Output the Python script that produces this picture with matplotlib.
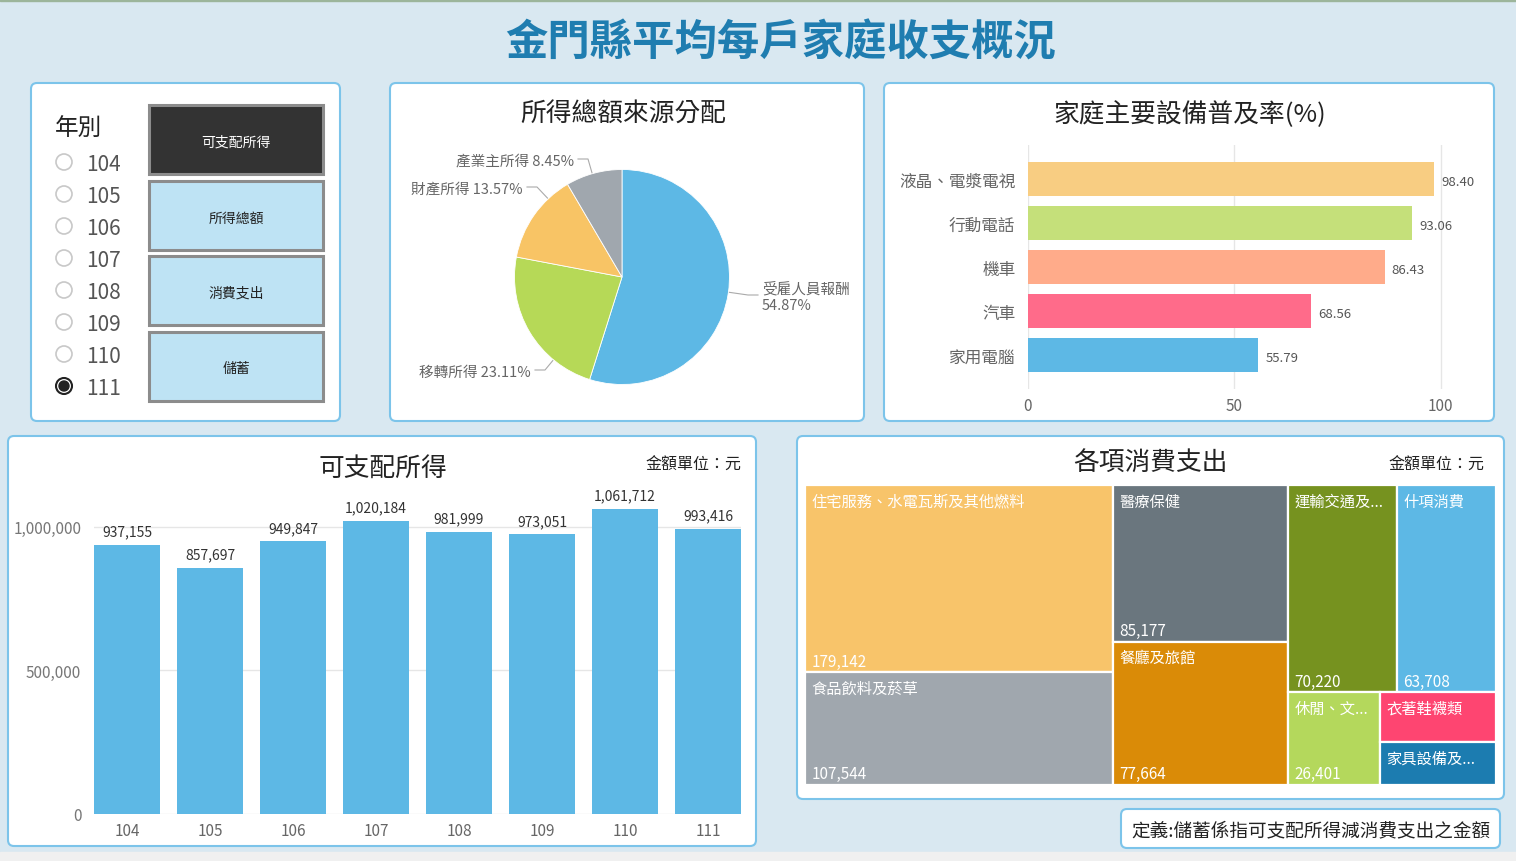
import matplotlib
matplotlib.use('Agg')
import matplotlib.pyplot as plt
from matplotlib.patches import FancyBboxPatch, Rectangle, Circle
import numpy as np

plt.rcParams['font.family'] = ['Noto Sans CJK TC', 'DejaVu Sans']

# ---- data ----
years = ['104', '105', '106', '107', '108', '109', '110', '111']
selected_year = '111'
disposable_income = [937155, 857697, 949847, 1020184, 981999, 973051, 1061712, 993416]

buttons = ['可支配所得', '所得總額', '消費支出', '儲蓄']

income_sources = ['受雇人員報酬', '移轉所得', '財產所得', '產業主所得']
income_shares = [54.87, 23.11, 13.57, 8.45]

equipment = ['液晶、電漿電視', '行動電話', '機車', '汽車', '家用電腦']
equipment_rates = [98.40, 93.06, 86.43, 68.56, 55.79]

spend_items = ['住宅服務、水電瓦斯及其他燃料', '食品飲料及菸草', '醫療保健', '餐廳及旅館',
               '運輸交通及...', '什項消費', '休閒、文...', '衣著鞋襪類', '家具設備及...']
spend_values = [179142, 107544, 85177, 77664, 70220, 63708, 26401, 17795, 15570]

# ---- colours ----
bg_color = '#D9E8F1'
border = '#7CC4EA'
blue = '#5DB8E5'
pie_colors = [blue, '#B6D957', '#F8C465', '#A0A7AE']
equip_colors = ['#F8CD82', '#C5E07A', '#FFAB8A', '#FF6B8A', blue]
spend_colors = ['#F8C46A', '#A0A7AE', '#6A767E', '#DA8B07', '#76921F',
                blue, '#B4D85C', '#FE4571', '#1C7CB0']

W, H = 1516, 862
fig = plt.figure(figsize=(W / 100, H / 100), dpi=100)
fig.patch.set_facecolor(bg_color)


def px_axes(x0, y0, x1, y1):
    # add an axes given its pixel box (top-left origin)
    ax = fig.add_axes([x0 / W, 1 - y1 / H, (x1 - x0) / W, (y1 - y0) / H])
    ax.set_facecolor('none')
    return ax


# background canvas in pixel units
bg = fig.add_axes([0, 0, 1, 1])
bg.set_xlim(0, W)
bg.set_ylim(H, 0)
bg.axis('off')
bg.add_patch(Rectangle((0, 0), W, 2, color='#9CB59B'))
bg.add_patch(Rectangle((0, 853), W, 9, color='#F0F0F0'))


def panel(x0, y0, x1, y1):
    bg.add_patch(FancyBboxPatch((x0, y0), x1 - x0, y1 - y0,
                                boxstyle='round,pad=0,rounding_size=6',
                                facecolor='white', edgecolor=border, linewidth=1.5))


panel(31, 84, 340, 422)
panel(390, 84, 864, 422)
panel(884, 84, 1494, 422)
panel(8, 437, 756, 847)
panel(797, 437, 1504, 800)
panel(1121, 810, 1500, 849)

bg.text(781, 44, '金門縣平均每戶家庭收支概況', ha='center', va='center',
        fontsize=30.5, fontweight='bold', color='#1F7DB0')

# ---- slicer panel ----
bg.text(55, 129, '年別', ha='left', va='center', fontsize=17, color='#222222')
for i, y in enumerate(years):
    yy = 163 + 32 * i
    if y == selected_year:
        bg.add_patch(Circle((64, yy), 8, facecolor='white', edgecolor='#222222', linewidth=1.5))
        bg.add_patch(Circle((64, yy), 5, color='#222222'))
    else:
        bg.add_patch(Circle((64, yy), 8, facecolor='white', edgecolor='#C8C8C8', linewidth=1.2))
    bg.text(86, yy + 2, y, ha='left', va='center', fontsize=15, color='#555555')

for i, b in enumerate(buttons):
    top = 106 + 75.5 * i
    active = i == 0
    bg.add_patch(Rectangle((149, top), 174, 69, facecolor='#333333' if active else '#BEE3F4',
                           edgecolor='#8C8C8C', linewidth=2.2))
    bg.text(236, top + 37, b, ha='center', va='center', fontsize=10,
            color='white' if active else '#222222')

# ---- pie: 所得總額來源分配 ----
bg.text(623, 115, '所得總額來源分配', ha='center', va='center', fontsize=18.5, color='#222222')
cx, cy, R = 622, 278, 107.5
ax_pie = px_axes(cx - R, cy - R, cx + R, cy + R)
ax_pie.pie(income_shares, colors=pie_colors, startangle=90, counterclock=False,
           wedgeprops=dict(edgecolor='white', linewidth=0.6))
ax_pie.set_xlim(-1, 1)
ax_pie.set_ylim(-1, 1)
ax_pie.axis('off')

# label positions (pixel layout) and which side the text sits on
label_pos = [(762, 296, 'left'), (531, 371, 'right'), (523, 188, 'right'), (574, 160, 'right')]
cum = np.concatenate([[0], np.cumsum(income_shares)]) / 100.0
for i, (name, share) in enumerate(zip(income_sources, income_shares)):
    lx, ly, side = label_pos[i]
    u, v = (lx - cx) / R, (cy - ly) / R
    step = 4 / R if side == 'right' else -4 / R
    elbow = 14 / R if side == 'right' else -14 / R
    start = (u + step, v)
    corner = (u + elbow, v)
    a = np.arctan2(corner[1], corner[0])
    # keep the anchor inside the wedge
    t0 = np.radians(90 - 360 * cum[i])
    t1 = np.radians(90 - 360 * cum[i + 1])
    a_deg = np.degrees(a)
    lo, hi = sorted([np.degrees(t1), np.degrees(t0)])
    while a_deg > hi:
        a_deg -= 360
    while a_deg < lo:
        a_deg += 360
    a = np.radians(min(max(a_deg, lo + 3), hi - 3))
    edge = (np.cos(a) * 1.01, np.sin(a) * 1.01)
    ax_pie.plot([start[0], corner[0], edge[0]], [start[1], corner[1], edge[1]],
                color='#AAAAAA', linewidth=0.8, clip_on=False)
    if side == 'left':
        ax_pie.text(u, v - 1.5 / R, f'{name}\n{share:.2f}%', ha='left', va='center', fontsize=10.5,
                    color='#666666', linespacing=1.25)
    else:
        ax_pie.text(u, v - 1.5 / R, f'{name} {share:.2f}%', ha='right', va='center', fontsize=10.5,
                    color='#666666')

# ---- horizontal bars: 家庭主要設備普及率(%) ----
bg.text(1190, 115, '家庭主要設備普及率(%)', ha='center', va='center', fontsize=18.5, color='#222222')
ax_h = px_axes(1028, 146, 1482, 390)
ypos = np.arange(len(equipment))
ax_h.barh(ypos, equipment_rates, height=0.77, color=equip_colors, zorder=2)
for yv, val in zip(ypos, equipment_rates):
    ax_h.annotate(f'{val:.2f}', (val, yv), xytext=(5, -2), textcoords='offset points',
                  ha='left', va='center', fontsize=9.5, color='#555555')
ax_h.set_xlim(0, 110)
ax_h.set_ylim(len(equipment) - 0.23, -0.77)
ax_h.set_xticks([0, 50, 100])
ax_h.set_yticks(ypos)
ax_h.set_yticklabels(equipment)
ax_h.tick_params(axis='y', length=0, pad=9, labelsize=12, labelcolor='#666666')
ax_h.tick_params(axis='x', length=0, pad=6, labelsize=11, labelcolor='#666666')
ax_h.grid(axis='x', color='#E6E6E6', linewidth=1, zorder=0)
for s in ax_h.spines.values():
    s.set_visible(False)

# ---- vertical bars: 可支配所得 ----
bg.text(383, 469, '可支配所得', ha='center', va='center', fontsize=18.5, color='#222222')
bg.text(741, 465, '金額單位：元', ha='right', va='center', fontsize=11.5, color='#222222')
ax_b = px_axes(93.8, 499, 741.2, 815)
xpos = np.arange(len(years))
ax_b.bar(xpos, disposable_income, width=0.8, color=blue, zorder=2)
for xv, val in zip(xpos, disposable_income):
    ax_b.annotate(f'{val:,}', (xv, val), xytext=(0, 4.5), textcoords='offset points',
                  ha='center', va='bottom', fontsize=10, color='#333333')
ax_b.set_xlim(-0.4, len(years) - 0.6)
ax_b.set_ylim(0, 1.1e6)
ax_b.set_yticks([0, 500000, 1000000])
ax_b.set_yticklabels(['0', '500,000', '1,000,000'])
ax_b.set_xticks(xpos)
ax_b.set_xticklabels(years)
ax_b.tick_params(axis='y', length=0, pad=9, labelsize=11, labelcolor='#777777')
ax_b.tick_params(axis='x', length=0, pad=6, labelsize=11, labelcolor='#666666')
ax_b.grid(axis='y', color='#E6E6E6', linewidth=1, zorder=0)
for s in ax_b.spines.values():
    s.set_visible(False)

# ---- treemap: 各項消費支出 ----
bg.text(1150, 464, '各項消費支出', ha='center', va='center', fontsize=18.5, color='#222222')
bg.text(1484, 465, '金額單位：元', ha='right', va='center', fontsize=11.5, color='#222222')

# nesting of the tiles: 'h' = side by side, 'v' = stacked
tree = ('h', [('v', [0, 1]), ('v', [2, 3]),
              ('v', [('h', [4, 5]), ('h', [6, ('v', [7, 8])])])])


def node_total(node):
    if isinstance(node, int):
        return spend_values[node]
    return sum(node_total(k) for k in node[1])


def layout(node, x, y, w, h, out):
    if isinstance(node, int):
        out.append((node, x, y, w, h))
        return
    direction, kids = node
    total = node_total(node)
    pos = 0.0
    for k in kids:
        frac = node_total(k) / total
        if direction == 'h':
            layout(k, x + pos * w, y, frac * w, h, out)
        else:
            layout(k, x, y + pos * h, w, frac * h, out)
        pos += frac


tiles = []
layout(tree, 0, 0, 1, 1, tiles)
ax_t = px_axes(805, 486, 1496, 786)
ax_t.set_xlim(0, 1)
ax_t.set_ylim(1, 0)
ax_t.axis('off')
for idx, x, y, w, h in tiles:
    ax_t.add_patch(Rectangle((x, y), w, h, facecolor=spend_colors[idx],
                             edgecolor='white', linewidth=1.6))
    ax_t.annotate(spend_items[idx], (x, y), xytext=(4.5, -5.5), textcoords='offset points',
                  ha='left', va='top', fontsize=11, color='white')
    # small tiles only carry the category name
    if h * 300 > 60:
        ax_t.annotate(f'{spend_values[idx]:,}', (x, y + h), xytext=(4.5, 2), textcoords='offset points',
                      ha='left', va='bottom', fontsize=11, color='white')

# ---- definition note ----
bg.text(1311, 831, '定義:儲蓄係指可支配所得減消費支出之金額', ha='center', va='center',
        fontsize=13.4, color='#222222')

fig.savefig('out.png', dpi=100, facecolor=fig.get_facecolor())
